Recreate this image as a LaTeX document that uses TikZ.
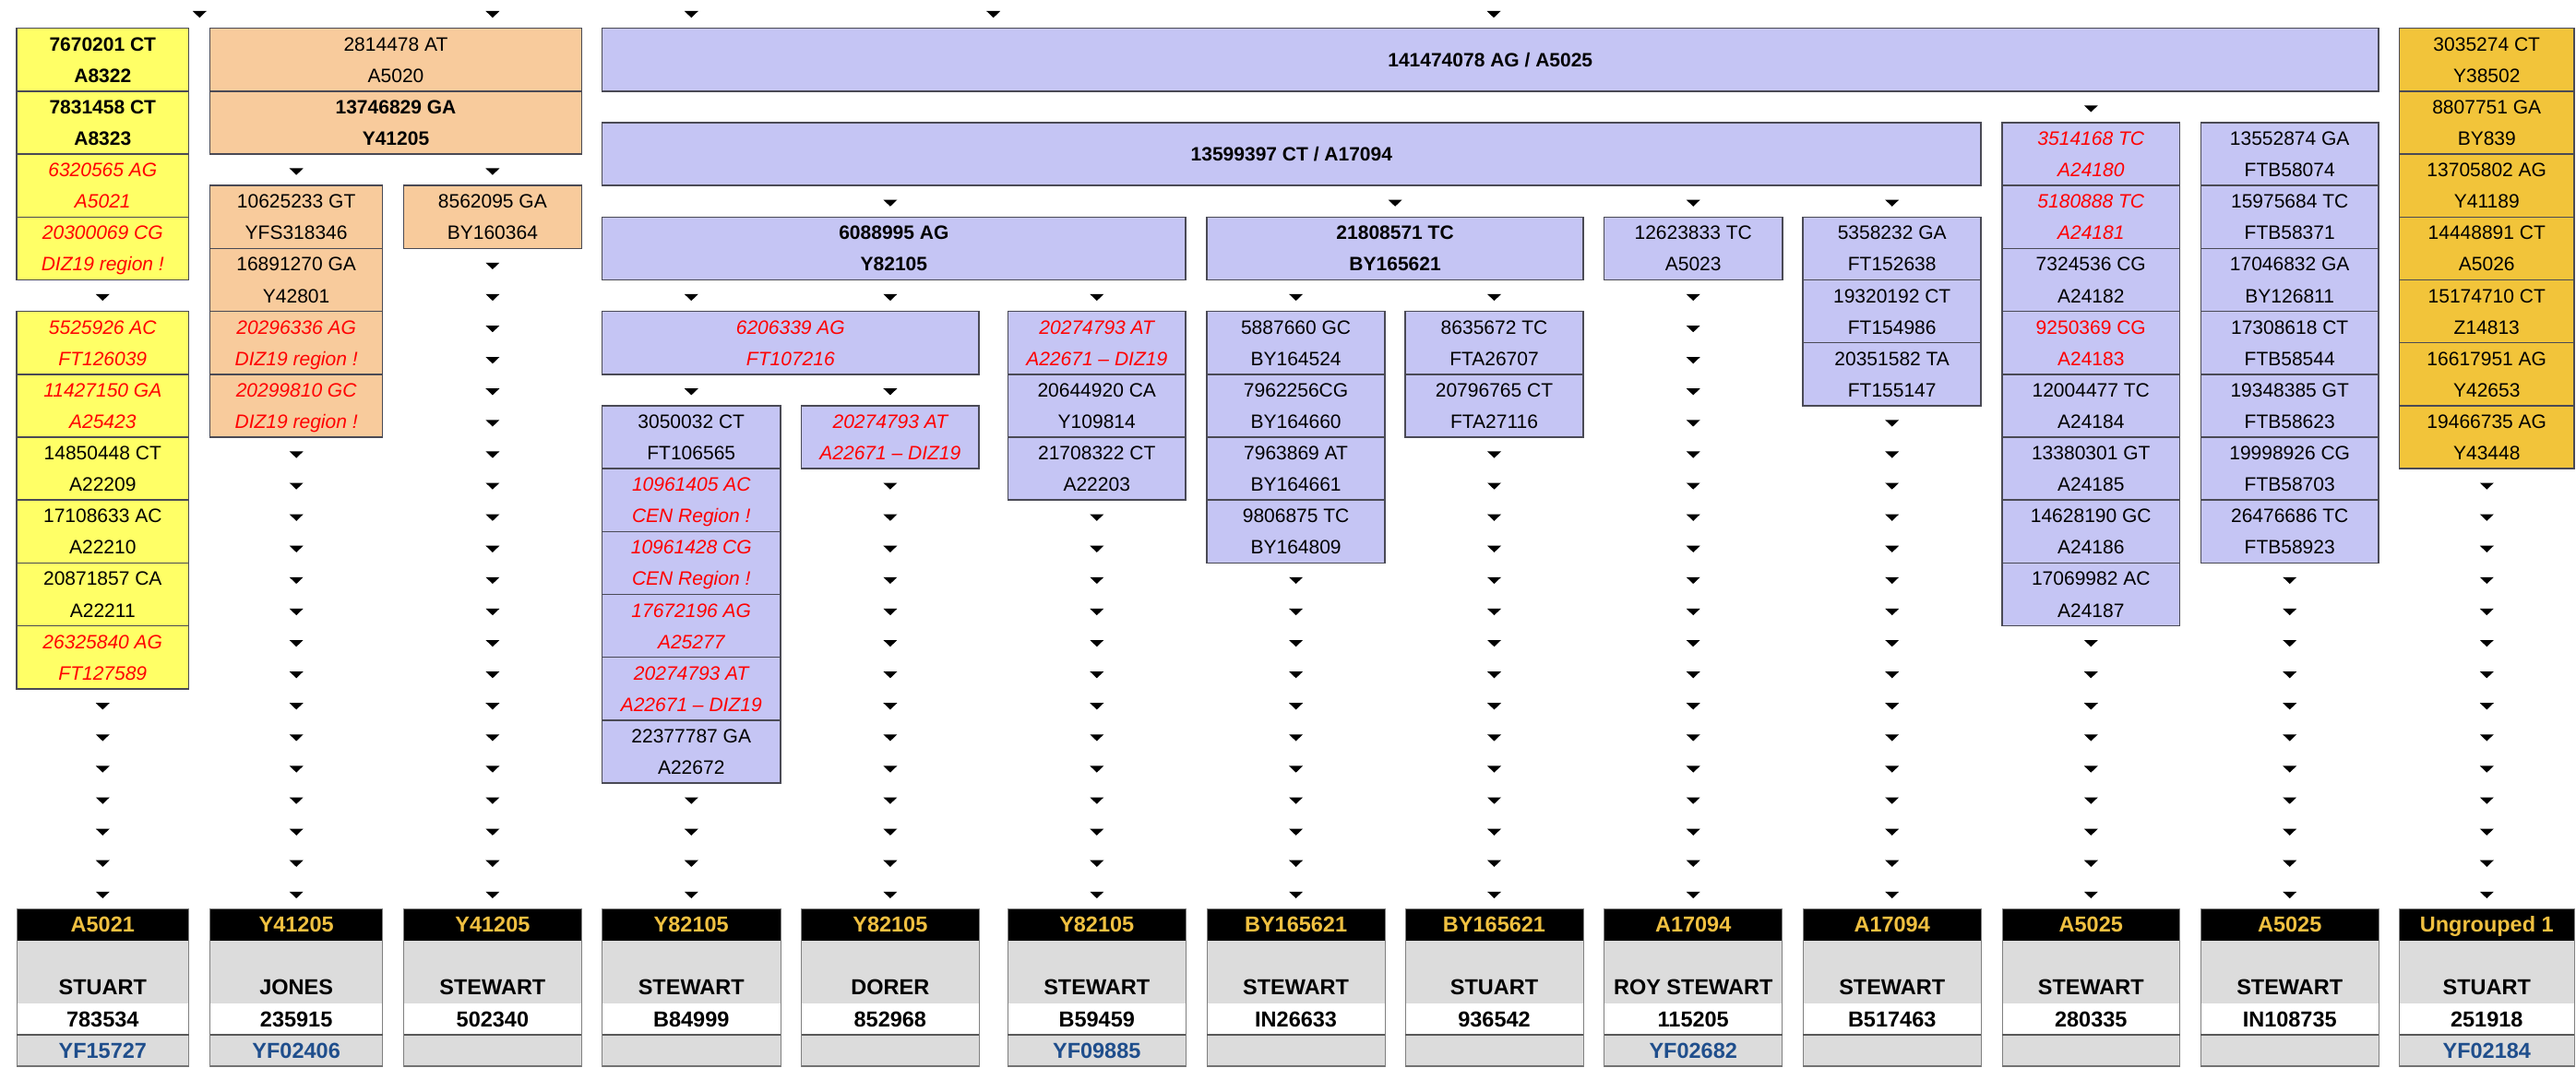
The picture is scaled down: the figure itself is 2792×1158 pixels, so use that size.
\documentclass[tikz,border=0pt]{standalone}
\usepackage{fontspec}
\setmainfont{Liberation Sans}
\definecolor{yelF}{HTML}{FFFF66}
\definecolor{orF}{HTML}{F8CB9C}
\definecolor{blF}{HTML}{C5C5F4}
\definecolor{goF}{HTML}{F2C43A}
\definecolor{hdrT}{HTML}{F0C040}
\definecolor{cardG}{HTML}{DCDCDC}
\definecolor{yfT}{HTML}{1F4E8C}
\definecolor{bord}{HTML}{4A4A55}
\newcommand{\boxfont}{\fontsize{21}{25}\selectfont}
\newcommand{\cardfont}{\fontsize{23.5}{28}\selectfont\bfseries}
\tikzset{
  ebox/.style={draw=bord, line width=1.5pt, minimum height=68.2pt, inner sep=0pt, outer sep=0pt},
  etext/.style={font=\boxfont, inner sep=0pt, anchor=base, text=black},
  nrm/.style={},
  bld/.style={font=\boxfont\bfseries},
  rit/.style={text=red, font=\boxfont\itshape},
  rup/.style={text=red},
  cellbox/.style={inner sep=0pt, outer sep=0pt, minimum height=34.1pt, draw=none},
  ctext/.style={font=\cardfont, inner sep=0pt, anchor=base},
  tri/.style={fill=black}
}
% name, x1, x2, first cell, fill, text style, line 1, line 2
\newcommand{\myent}[8]{%
  \node[ebox, fill=#5, minimum width={#3-#2}, anchor=north west] (#1) at (#2,{-3.4+34.1*#4}) {};
  \node[etext,#6] (#1a) at ({(#2+#3)/2},{-3.4+34.1*#4+24.55}) {#7};
  \node[etext,#6] (#1b) at ({(#2+#3)/2},{-3.4+34.1*#4+58.65}) {#8};
}
% name, x1, x2, first cell, text
\newcommand{\myone}[5]{%
  \node[ebox, fill=blF, minimum width={#3-#2}, anchor=north west] (#1) at (#2,{-3.4+34.1*#4}) {};
  \node[etext,bld] (#1t) at ({(#2+#3)/2},{-3.4+34.1*#4+41.6}) {#5};
}
% x, cell
\newcommand{\myarr}[2]{%
  \fill[tri] ({#1-7.5},{-3.4+34.1*#2+15.4}) -- ({#1+7.5},{-3.4+34.1*#2+15.4}) -- (#1,{-3.4+34.1*#2+22.6}) -- cycle;
}
% name, x1, x2, header, surname, number, kit
\newcommand{\mycard}[7]{%
  \node[cellbox, fill=black, minimum width={#3-#2}, anchor=north west] (#1h) at (#2,985.5) {};
  \node[cellbox, fill=cardG, minimum width={#3-#2}, minimum height=68.2pt, anchor=north west] (#1g) at (#2,1019.6) {};
  \node[cellbox, fill=white, minimum width={#3-#2}, anchor=north west] (#1w) at (#2,1087.8) {};
  \node[cellbox, fill=cardG, minimum width={#3-#2}, anchor=north west] (#1y) at (#2,1121.9) {};
  \draw[gray, line width=1pt] (#1h.north west) rectangle (#1y.south east);
  \draw[black!65, line width=1.5pt] (#1w.south west) -- (#1w.south east);
  \draw[black!55, line width=1.5pt] (#1y.south west) -- (#1y.south east);
  \node[ctext, text=hdrT] (#1ht) at ({(#2+#3)/2},1010.9) {#4};
  \node[ctext, text=black] (#1nt) at ({(#2+#3)/2},1078.8) {#5};
  \node[ctext, text=black] (#1wt) at ({(#2+#3)/2},1113.2) {#6};
  \node[ctext, text=yfT] (#1yt) at ({(#2+#3)/2},1147.3) {#7};
}
\begin{document}
\begin{tikzpicture}[x=1pt,y=-1pt]
\useasboundingbox (0,0) rectangle (2792,1158);
\fill[white] (0,0) rectangle (2792,1158);

% ---------- column 1 (yellow)
\myent{ya}{18}{204.6}{1}{yelF}{bld}{7670201 CT}{A8322}
\myent{yb}{18}{204.6}{3}{yelF}{bld}{7831458 CT}{A8323}
\myent{yc}{18}{204.6}{5}{yelF}{rit}{6320565 AG}{A5021}
\myent{yd}{18}{204.6}{7}{yelF}{rit}{20300069 CG}{DIZ19 region !}
\myent{ye}{18}{204.6}{10}{yelF}{rit}{5525926 AC}{FT126039}
\myent{yf}{18}{204.6}{12}{yelF}{rit}{11427150 GA}{A25423}
\myent{yg}{18}{204.6}{14}{yelF}{nrm}{14850448 CT}{A22209}
\myent{yh}{18}{204.6}{16}{yelF}{nrm}{17108633 AC}{A22210}
\myent{yi}{18}{204.6}{18}{yelF}{nrm}{20871857 CA}{A22211}
\myent{yj}{18}{204.6}{20}{yelF}{rit}{26325840 AG}{FT127589}

% ---------- columns 2-3 (orange)
\myent{oa}{227.7}{630.3}{1}{orF}{nrm}{2814478 AT}{A5020}
\myent{ob}{227.7}{630.3}{3}{orF}{bld}{13746829 GA}{Y41205}
\myent{oc}{227.7}{414.6}{6}{orF}{nrm}{10625233 GT}{YFS318346}
\myent{od}{227.7}{414.6}{8}{orF}{nrm}{16891270 GA}{Y42801}
\myent{oe}{227.7}{414.6}{10}{orF}{rit}{20296336 AG}{DIZ19 region !}
\myent{of}{227.7}{414.6}{12}{orF}{rit}{20299810 GC}{DIZ19 region !}
\myent{og}{437.5}{630.3}{6}{orF}{nrm}{8562095 GA}{BY160364}

% ---------- blue groups
\myone{ba}{652.5}{2578}{1}{141474078 AG / A5025}
\myone{bb}{652.5}{2147.2}{4}{13599397 CT / A17094}
\myent{bc}{652.5}{1285.2}{7}{blF}{bld}{6088995 AG}{Y82105}
\myent{bd}{652.5}{1061.2}{10}{blF}{rit}{6206339 AG}{FT107216}
% column 4
\myent{ca}{652.5}{846}{13}{blF}{nrm}{3050032 CT}{FT106565}
\myent{cb}{652.5}{846}{15}{blF}{rit}{10961405 AC}{CEN Region !}
\myent{cc}{652.5}{846}{17}{blF}{rit}{10961428 CG}{CEN Region !}
\myent{cd}{652.5}{846}{19}{blF}{rit}{17672196 AG}{A25277}
\myent{ce}{652.5}{846}{21}{blF}{rit}{20274793 AT}{A22671 – DIZ19}
\myent{cf}{652.5}{846}{23}{blF}{nrm}{22377787 GA}{A22672}
% column 5
\myent{da}{868.5}{1061.2}{13}{blF}{rit}{20274793 AT}{A22671 – DIZ19}
% column 6
\myent{ea}{1092.3}{1285.2}{10}{blF}{rit}{20274793 AT}{A22671 – DIZ19}
\myent{eb}{1092.3}{1285.2}{12}{blF}{nrm}{20644920 CA}{Y109814}
\myent{ec}{1092.3}{1285.2}{14}{blF}{nrm}{21708322 CT}{A22203}
% columns 7-8
\myent{fa}{1308.2}{1716}{7}{blF}{bld}{21808571 TC}{BY165621}
\myent{fb}{1308.2}{1501}{10}{blF}{nrm}{5887660 GC}{BY164524}
\myent{fc}{1308.2}{1501}{12}{blF}{nrm}{7962256CG}{BY164660}
\myent{fd}{1308.2}{1501}{14}{blF}{nrm}{7963869 AT}{BY164661}
\myent{fe}{1308.2}{1501}{16}{blF}{nrm}{9806875 TC}{BY164809}
\myent{ga}{1523}{1716}{10}{blF}{nrm}{8635672 TC}{FTA26707}
\myent{gb}{1523}{1716}{12}{blF}{nrm}{20796765 CT}{FTA27116}
% column 9
\myent{ha}{1738.6}{1931.8}{7}{blF}{nrm}{12623833 TC}{A5023}
% column 10
\myent{ia}{1954.2}{2147.2}{7}{blF}{nrm}{5358232 GA}{FT152638}
\myent{ib}{1954.2}{2147.2}{9}{blF}{nrm}{19320192 CT}{FT154986}
\myent{ic}{1954.2}{2147.2}{11}{blF}{nrm}{20351582 TA}{FT155147}
% column 11
\myent{ja}{2170}{2362.5}{4}{blF}{rit}{3514168 TC}{A24180}
\myent{jb}{2170}{2362.5}{6}{blF}{rit}{5180888 TC}{A24181}
\myent{jc}{2170}{2362.5}{8}{blF}{nrm}{7324536 CG}{A24182}
\myent{jd}{2170}{2362.5}{10}{blF}{rup}{9250369 CG}{A24183}
\myent{je}{2170}{2362.5}{12}{blF}{nrm}{12004477 TC}{A24184}
\myent{jf}{2170}{2362.5}{14}{blF}{nrm}{13380301 GT}{A24185}
\myent{jg}{2170}{2362.5}{16}{blF}{nrm}{14628190 GC}{A24186}
\myent{jh}{2170}{2362.5}{18}{blF}{nrm}{17069982 AC}{A24187}
% column 12
\myent{ka}{2385.4}{2578}{4}{blF}{nrm}{13552874 GA}{FTB58074}
\myent{kb}{2385.4}{2578}{6}{blF}{nrm}{15975684 TC}{FTB58371}
\myent{kc}{2385.4}{2578}{8}{blF}{nrm}{17046832 GA}{BY126811}
\myent{kd}{2385.4}{2578}{10}{blF}{nrm}{17308618 CT}{FTB58544}
\myent{ke}{2385.4}{2578}{12}{blF}{nrm}{19348385 GT}{FTB58623}
\myent{kf}{2385.4}{2578}{14}{blF}{nrm}{19998926 CG}{FTB58703}
\myent{kg}{2385.4}{2578}{16}{blF}{nrm}{26476686 TC}{FTB58923}

% ---------- column 13 (gold)
\myent{la}{2600.5}{2790}{1}{goF}{nrm}{3035274 CT}{Y38502}
\myent{lb}{2600.5}{2790}{3}{goF}{nrm}{8807751 GA}{BY839}
\myent{lc}{2600.5}{2790}{5}{goF}{nrm}{13705802 AG}{Y41189}
\myent{ld}{2600.5}{2790}{7}{goF}{nrm}{14448891 CT}{A5026}
\myent{le}{2600.5}{2790}{9}{goF}{nrm}{15174710 CT}{Z14813}
\myent{lf}{2600.5}{2790}{11}{goF}{nrm}{16617951 AG}{Y42653}
\myent{lg}{2600.5}{2790}{13}{goF}{nrm}{19466735 AG}{Y43448}

% ---------- arrows
\foreach \x in {216.3,533.9,749.3,1076.7,1619} {\myarr{\x}{0}}
\myarr{2266.3}{3}
\foreach \x in {321.2,533.9} {\myarr{\x}{5}}
\foreach \x in {964.9,1512.1,1835.2,2050.7} {\myarr{\x}{6}}
\foreach \x in {111.3,749.3,964.9,1188.8,1404.6,1619.5} {\myarr{\x}{9}}
\foreach \x in {749.3,964.9} {\myarr{\x}{12}}
\foreach \k in {22,...,28} {\myarr{111.3}{\k}}
\foreach \k in {14,...,28} {\myarr{321.2}{\k}}
\foreach \k in {8,...,28} {\myarr{533.9}{\k}}
\foreach \k in {25,...,28} {\myarr{749.3}{\k}}
\foreach \k in {15,...,28} {\myarr{964.9}{\k}}
\foreach \k in {16,...,28} {\myarr{1188.8}{\k}}
\foreach \k in {18,...,28} {\myarr{1404.6}{\k}}
\foreach \k in {14,...,28} {\myarr{1619.5}{\k}}
\foreach \k in {9,...,28} {\myarr{1835.2}{\k}}
\foreach \k in {13,...,28} {\myarr{2050.7}{\k}}
\foreach \k in {20,...,28} {\myarr{2266.3}{\k}}
\foreach \k in {18,...,28} {\myarr{2481.7}{\k}}
\foreach \k in {15,...,28} {\myarr{2695.3}{\k}}

% ---------- cards
\mycard{m1}{18}{204.6}{A5021}{STUART}{783534}{YF15727}
\mycard{m2}{227.7}{414.6}{Y41205}{JONES}{235915}{YF02406}
\mycard{m3}{437.5}{630.3}{Y41205}{STEWART}{502340}{}
\mycard{m4}{652.5}{846}{Y82105}{STEWART}{B84999}{}
\mycard{m5}{868.5}{1061.2}{Y82105}{DORER}{852968}{}
\mycard{m6}{1092.3}{1285.2}{Y82105}{STEWART}{B59459}{YF09885}
\mycard{m7}{1308.2}{1501}{BY165621}{STEWART}{IN26633}{}
\mycard{m8}{1523}{1716}{BY165621}{STUART}{936542}{}
\mycard{m9}{1738.6}{1931.8}{A17094}{ROY STEWART}{115205}{YF02682}
\mycard{m10}{1954.2}{2147.2}{A17094}{STEWART}{B517463}{}
\mycard{m11}{2170}{2362.5}{A5025}{STEWART}{280335}{}
\mycard{m12}{2385.4}{2578}{A5025}{STEWART}{IN108735}{}
\mycard{m13}{2600.5}{2790}{Ungrouped 1}{STUART}{251918}{YF02184}
\end{tikzpicture}
\end{document}
